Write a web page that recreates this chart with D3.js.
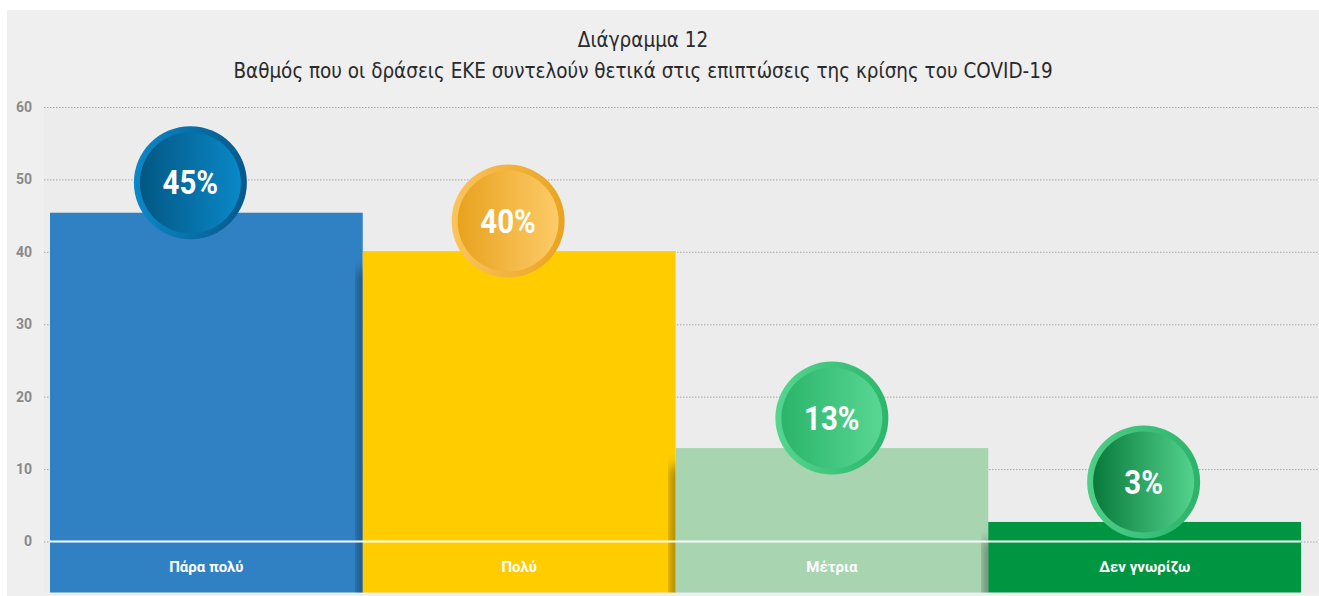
<!DOCTYPE html>
<html>
<head>
<meta charset="utf-8">
<script src="https://cdn.jsdelivr.net/npm/d3@7"></script>
<style>
  body { margin: 0; background: #ffffff; }
  #chart { width: 1319px; height: 596px; }
</style>
</head>
<body>
<div id="chart"></div>
<script>

var categories = ["Πάρα πολύ", "Πολύ", "Μέτρια", "Δεν γνωρίζω"];
var values = [45.4, 40.1, 12.9, 2.7];
var valueLabels = ["45%", "40%", "13%", "3%"];
var yTicks = [0, 10, 20, 30, 40, 50, 60];
var titleLines = ["Διάγραμμα 12", "Βαθμός που οι δράσεις ΕΚΕ συντελούν θετικά στις επιπτώσεις της κρίσης του COVID-19"];

var barColors = ["#2f81c4", "#ffcc00", "#a8d4b0", "#009541"];
// badge gradients: [inner left, inner right, ring left, ring right]
var badgeColors = [
  ["#025783", "#0a88c8", "#0b88c8", "#05598a"],
  ["#e8a21e", "#fdcb68", "#fcc45c", "#e9a31f"],
  ["#2bb46a", "#58d793", "#55d690", "#2cb56b"],
  ["#087a3b", "#54d38d", "#4fcf88", "#2cb36a"]
];
// the badges in the original are not quite centred on their bars
var badgeShift = [-16, -11, 0, -1];

var chartWidth = 1319,
  chartHeight = 596;

var svg = d3.select("#chart").append("svg")
  .attr("width", chartWidth)
  .attr("height", chartHeight);

var defs = svg.append("defs");

// card + plot background
svg.append("rect")
  .attr("x", 7).attr("y", 10)
  .attr("width", chartWidth - 7).attr("height", chartHeight - 10)
  .attr("fill", "#efefef");

var x = d3.scaleBand()
  .domain(categories)
  .range([50, 1301])
  .padding(0);

var y = d3.scaleLinear()
  .domain([0, 60])
  .range([541.5, 107]);

var bottomY = 592.5;

svg.append("rect")
  .attr("x", 44).attr("y", y(60))
  .attr("width", chartWidth - 44).attr("height", bottomY - y(60))
  .attr("fill", "#ebeceb");

// title (squeezed a bit, the original font is condensed)
svg.append("g")
  .attr("transform", "translate(643,0) scale(0.93,1)")
  .selectAll("text")
  .data(titleLines)
  .enter()
  .append("text")
  .attr("x", 0)
  .attr("y", function(d, i) { return 47 + i * 31; })
  .attr("text-anchor", "middle")
  .attr("font-family", "'DejaVu Sans Condensed', Roboto, sans-serif")
  .attr("font-size", 22)
  .attr("fill", "#2a2a2a")
  .text(function(d) { return d; });

// gridlines
var yAxis = d3.axisLeft(y)
  .tickValues(yTicks)
  .tickSize(-(chartWidth - 44))
  .tickPadding(12);

var gAxis = svg.append("g")
  .attr("transform", "translate(44,0)")
  .call(yAxis);

gAxis.select(".domain").remove();
gAxis.selectAll(".tick line")
  .attr("stroke", "#a9a9a9")
  .attr("stroke-dasharray", "1.5,1.5")
  .attr("stroke-width", 1);
gAxis.selectAll(".tick text")
  .attr("font-family", "Roboto, sans-serif")
  .attr("font-weight", "bold")
  .attr("font-size", 14)
  .attr("fill", "#8a8a8a");

// shadow filter
var blur = defs.append("filter")
  .attr("id", "blur")
  .attr("x", "-50%").attr("y", "-20%")
  .attr("width", "200%").attr("height", "140%");
blur.append("feGaussianBlur").attr("stdDeviation", 6);

// bars
svg.append("g").selectAll("rect")
  .data(values)
  .enter()
  .append("rect")
  .attr("x", function(d, i) { return x(categories[i]); })
  .attr("y", function(d) { return y(d); })
  .attr("width", x.bandwidth())
  .attr("height", function(d) { return bottomY - y(d); })
  .attr("fill", function(d, i) { return barColors[i]; });

// shadows that each bar casts on the bar to its left
values.forEach(function(v, i) {
  if (i == 0) return;
  var left = x(categories[i]);
  var clipId = "clip" + i;
  defs.append("clipPath").attr("id", clipId)
    .append("rect")
    .attr("x", left - 30).attr("y", 0)
    .attr("width", 30).attr("height", bottomY);
  svg.append("g")
    .attr("clip-path", "url(#" + clipId + ")")
    .append("rect")
    .attr("x", left - 3)
    .attr("y", y(v) + 18)
    .attr("width", 8)
    .attr("height", bottomY - y(v))
    .attr("fill", "rgba(0,0,0,0.55)")
    .attr("filter", "url(#blur)");
});

// zero line
svg.append("line")
  .attr("x1", 50).attr("x2", 1301)
  .attr("y1", y(0)).attr("y2", y(0))
  .attr("stroke", "#ffffff")
  .attr("stroke-width", 2);

// category labels
svg.append("g").selectAll("text")
  .data(categories)
  .enter()
  .append("text")
  .attr("x", function(d) { return x(d) + x.bandwidth() / 2; })
  .attr("y", 572)
  .attr("text-anchor", "middle")
  .attr("font-family", "Roboto, sans-serif")
  .attr("font-weight", "bold")
  .attr("font-size", 15)
  .attr("fill", "#ffffff")
  .text(function(d) { return d; });

// badges
badgeColors.forEach(function(c, i) {
  var inner = defs.append("linearGradient").attr("id", "inner" + i)
    .attr("x1", "0").attr("x2", "1").attr("y1", "0").attr("y2", "0");
  inner.append("stop").attr("offset", "0").attr("stop-color", c[0]);
  inner.append("stop").attr("offset", "1").attr("stop-color", c[1]);
  var ring = defs.append("linearGradient").attr("id", "ring" + i)
    .attr("x1", "0").attr("x2", "1").attr("y1", "0").attr("y2", "0");
  ring.append("stop").attr("offset", "0").attr("stop-color", c[2]);
  ring.append("stop").attr("offset", "1").attr("stop-color", c[3]);
});

var badges = svg.append("g").selectAll("g")
  .data(values)
  .enter()
  .append("g")
  .attr("transform", function(d, i) {
    var cx = x(categories[i]) + x.bandwidth() / 2 + badgeShift[i];
    var cy = y(d) - (d < 5 ? 40 : 30);
    return "translate(" + cx + "," + cy + ")";
  });

badges.append("circle")
  .attr("r", 56.5)
  .attr("fill", function(d, i) { return "url(#ring" + i + ")"; });

badges.append("circle")
  .attr("r", 50.5)
  .attr("fill", function(d, i) { return "url(#inner" + i + ")"; });

badges.append("text")
  .attr("text-anchor", "middle")
  .attr("dy", "0.36em")
  .attr("transform", "scale(0.95,1.05)")
  .attr("font-family", "Roboto, sans-serif")
  .attr("font-weight", "bold")
  .attr("font-size", 31)
  .attr("fill", "#ffffff")
  .text(function(d, i) { return valueLabels[i]; });

</script>
</body>
</html>
